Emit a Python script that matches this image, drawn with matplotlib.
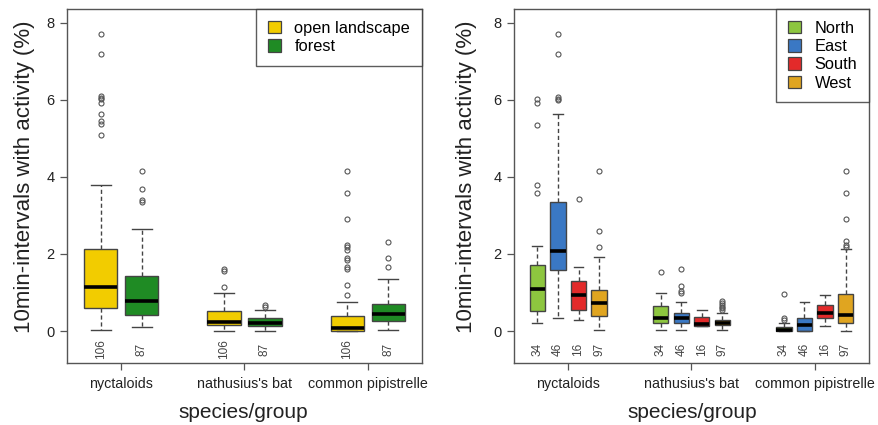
import matplotlib
matplotlib.use("Agg")
import matplotlib.pyplot as plt
from matplotlib.patches import Patch

plt.rcParams['font.family'] = ['Liberation Sans', 'DejaVu Sans']

# ---------------- data ----------------
groups = ["nyctaloids", "nathusius's bat", "common pipistrelle"]

habitats = ["open landscape", "forest"]
habitat_colors = ["#F2CC00", "#1F8B24"]
habitat_n = [106, 87]
hab_med = [[1.15, 0.24, 0.09], [0.78, 0.20, 0.44]]
hab_q1 = [[0.59, 0.16, 0.01], [0.42, 0.13, 0.27]]
hab_q3 = [[2.14, 0.53, 0.39], [1.43, 0.33, 0.70]]
hab_lo = [[0.04, 0.00, 0.00], [0.11, 0.00, 0.03]]
hab_hi = [[3.79, 1.00, 0.76], [2.65, 0.54, 1.35]]
hab_fliers = [
    [[7.70, 7.19, 6.10, 6.05, 6.01, 5.91, 5.63, 5.46, 5.36, 5.08],
     [1.62, 1.57, 1.15],
     [4.15, 3.57, 2.91, 2.23, 2.17, 2.10, 1.90, 1.84, 1.67, 1.60, 1.19, 0.94]],
    [[4.15, 3.69, 3.40, 3.35],
     [0.67, 0.63],
     [2.32, 1.90, 1.65]],
]

regions = ["North", "East", "South", "West"]
region_colors = ["#8DC63F", "#3A78C4", "#E32A2A", "#E0A520"]
region_n = [34, 46, 16, 97]
reg_med = [[1.10, 0.33, 0.03], [2.09, 0.33, 0.16], [0.94, 0.19, 0.48], [0.73, 0.22, 0.43]]
reg_q1 = [[0.52, 0.20, 0.00], [1.58, 0.20, 0.00], [0.56, 0.13, 0.33], [0.39, 0.15, 0.20]]
reg_q3 = [[1.71, 0.65, 0.11], [3.35, 0.47, 0.35], [1.30, 0.37, 0.67], [1.06, 0.30, 0.96]]
reg_lo = [[0.20, 0.04, 0.00], [0.33, 0.04, 0.00], [0.30, 0.13, 0.13], [0.04, 0.04, 0.00]]
reg_hi = [[2.20, 0.98, 0.22], [5.62, 0.76, 0.76], [1.65, 0.56, 0.93], [1.93, 0.48, 2.14]]
reg_fliers = [
    [[6.01, 5.91, 5.34, 3.80, 3.59], [1.54], [0.95, 0.33, 0.29]],
    [[7.70, 7.19, 6.08, 6.03, 6.00], [1.60, 1.17, 1.04, 0.98], []],
    [[3.42], [], []],
    [[4.15, 2.59, 2.18], [0.78, 0.72, 0.67, 0.63, 0.60, 0.55],
     [4.15, 3.59, 2.91, 2.34, 2.24, 2.18]],
]

yticks = [0, 2, 4, 6, 8]
ylabel = "10min-intervals with activity (%)"
xlabel = "species/group"

# ---------------- drawing ----------------
W, H = 879, 425
fig = plt.figure(figsize=(W / 100, H / 100), dpi=100)

EDGE = "#444444"


def draw_panel(ax, names, colors, ns, med, q1, q3, lo, hi, fliers, spacing, width, capw):
    k = len(names)
    for s in range(k):
        stats = []
        pos = []
        for g in range(len(groups)):
            stats.append(dict(med=med[s][g], q1=q1[s][g], q3=q3[s][g],
                              whislo=lo[s][g], whishi=hi[s][g], fliers=fliers[s][g]))
            pos.append(g + 1 + (s - (k - 1) / 2) * spacing)
        ax.bxp(stats, positions=pos, widths=width, capwidths=capw,
               patch_artist=True, showfliers=True, manage_ticks=False,
               boxprops=dict(facecolor=colors[s], edgecolor=EDGE, linewidth=1.0),
               medianprops=dict(color="black", linewidth=2.6, solid_capstyle="butt"),
               whiskerprops=dict(color=EDGE, linewidth=1.0, linestyle=(0, (3, 2))),
               capprops=dict(color=EDGE, linewidth=1.0),
               flierprops=dict(marker="o", markersize=3.6, markerfacecolor="none",
                               markeredgecolor="#555555", markeredgewidth=0.8))
        for p in pos:
            ax.text(p, -0.47, str(ns[s]), rotation=90, ha="center", va="center",
                    fontsize=8.5, color="#444444")
    ax.set_xlim(0.56, 3.44)
    ax.set_ylim(-0.82, 8.355)
    ax.set_xticks([1, 2, 3])
    ax.set_xticklabels(groups, fontsize=10.3, color="#222222")
    ax.set_yticks(yticks)
    ax.set_yticklabels([str(v) for v in yticks], fontsize=10.5, color="#222222")
    ax.tick_params(axis="both", direction="out", length=5, width=0.9, color="#555555", pad=4)
    ax.tick_params(axis="x", pad=5)
    for sp in ax.spines.values():
        sp.set_color("#555555")
        sp.set_linewidth(1.0)
    handles = [Patch(facecolor=c, edgecolor=EDGE, linewidth=0.9) for c in colors]
    leg = ax.legend(handles, names, loc="upper right", fontsize=11.8, frameon=True,
                    fancybox=False, borderaxespad=0, handlelength=0.8, handleheight=0.8,
                    handletextpad=0.8, labelspacing=0.2, borderpad=0.72)
    leg.get_frame().set_edgecolor("#333333")
    leg.get_frame().set_linewidth(1.0)


ax1 = fig.add_axes([67 / W, 1 - 362.7 / H, 355 / W, 353.7 / H])
draw_panel(ax1, habitats, habitat_colors, habitat_n, hab_med, hab_q1, hab_q3,
           hab_lo, hab_hi, hab_fliers, 0.332, 0.27, 0.16)

ax2 = fig.add_axes([514 / W, 1 - 362.7 / H, 355 / W, 353.7 / H])
draw_panel(ax2, regions, region_colors, region_n, reg_med, reg_q1, reg_q3,
           reg_lo, reg_hi, reg_fliers, 0.167, 0.124, 0.08)

for cx in (25, 467):
    fig.text(cx / W, 1 - 177 / H, ylabel, rotation=90, ha="center", va="center",
             fontsize=16, color="#222222")
for cx in (243, 692):
    fig.text(cx / W, 1 - 412 / H, xlabel, ha="center", va="center",
             fontsize=15, color="#222222")

fig.savefig("out.png", dpi=100, facecolor="white")
